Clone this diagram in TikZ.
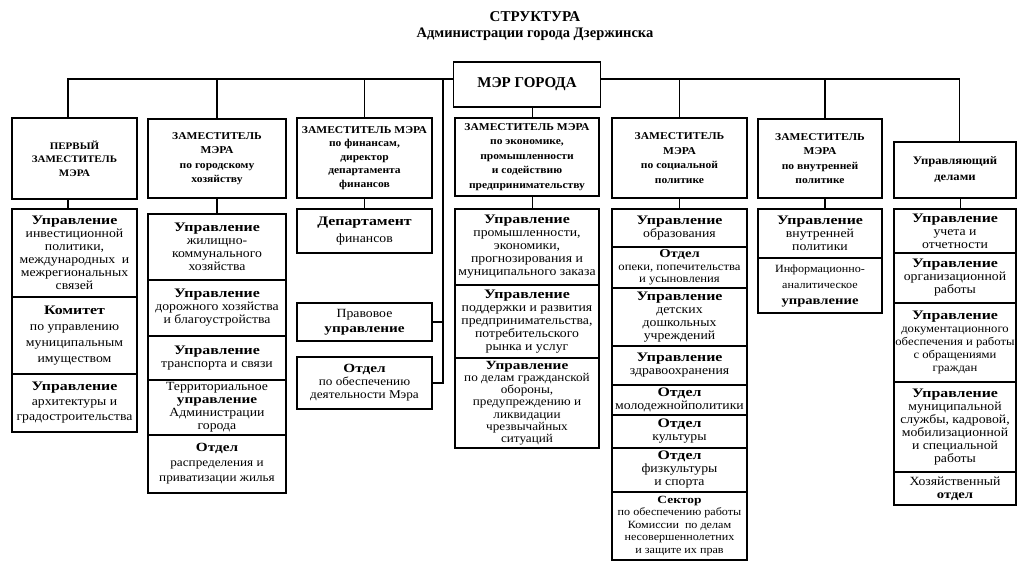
\documentclass[tikz,border=0pt]{standalone}
\usepackage{fontspec}
\setmainfont[FakeStretch=1.1]{Liberation Serif}
\newfontfamily\titlefont{Liberation Serif}
\newfontfamily\headfont[FakeStretch=1.22]{Liberation Serif}
\usetikzlibrary{calc}
\tikzset{
  chief/.style={draw,line width=1.5pt,align=center,inner sep=1pt,font=\bfseries\fontsize{10.5}{14.5}\selectfont},
  dept/.style={draw,line width=1.2pt,align=center,inner sep=1pt,font=\fontsize{12.5}{13}\selectfont},
  small/.style={font=\fontsize{11.5}{12.5}\selectfont},
  link/.style={line width=1.1pt}
}
\newcommand{\hdg}[2][13]{{\headfont\bfseries\fontsize{#1}{13}\selectfont #2}}

\begin{document}
\begin{tikzpicture}[x=1pt,y=-1pt]
  \useasboundingbox (0,0) rectangle (1024,564);
  \node[font=\titlefont\bfseries\fontsize{15}{17}\selectfont] (title) at (535,16.5) {СТРУКТУРА};
  \node[font=\titlefont\bfseries\fontsize{14.5}{16}\selectfont] (subtitle) at (535,34) {Администрации города Дзержинска};
  \node[chief,line width=1.8pt,font=\titlefont\bfseries\fontsize{15}{17}\selectfont,minimum width=147,minimum height=45] (mayor) at (527,84.5) {МЭР ГОРОДА};
  \coordinate (bus) at (0,79);
  \coordinate (riser) at (443,79);
  % first deputy
  \begin{scope}[every node/.append style={minimum width=125}]
    \node[chief,font=\bfseries\fontsize{10}{13.5}\selectfont,minimum height=81] (t1) at (74.5,158.5) {ПЕРВЫЙ\\ЗАМЕСТИТЕЛЬ\\МЭРА};
    \node[dept,minimum height=88] (s11) at (74.5,253) {\hdg{Управление}\\инвестиционной\\политики,\\международных~ и\\межрегиональных\\связей};
    \node[dept,minimum height=77,font=\fontsize{12.5}{16}\selectfont] (s12) at (74.5,335.5) {\hdg{Комитет}\\по управлению\\муниципальным\\имуществом};
    \node[dept,minimum height=58,font=\fontsize{12.5}{15}\selectfont] (s13) at (74.5,403) {\hdg{Управление}\\архитектуры и\\градостроительства};
  \end{scope}
  % city economy
  \begin{scope}[every node/.append style={minimum width=138}]
    \node[chief,minimum height=79] (t2) at (217,158.5) {ЗАМЕСТИТЕЛЬ\\МЭРА\\по городскому\\хозяйству};
    \node[dept,minimum height=66] (s21) at (217,247) {\hdg{Управление}\\жилищно-\\коммунального\\хозяйства};
    \node[dept,minimum height=56] (s22) at (217,308) {\hdg{Управление}\\дорожного хозяйства\\и благоустройства};
    \node[dept,minimum height=44] (s23) at (217,358) {\hdg{Управление}\\транспорта и связи};
    \node[dept,minimum height=55] (s24) at (217,407.5) {Территориальное\\\hdg[12.5]{управление}\\Администрации\\города};
    \node[dept,minimum height=58,font=\fontsize{12}{15}\selectfont] (s25) at (217,464) {\hdg[12.5]{Отдел}\\распределения и\\приватизации жилья};
  \end{scope}
  % finance
  \begin{scope}[every node/.append style={minimum width=135}]
    \node[chief,font=\bfseries\fontsize{10.5}{13.5}\selectfont,minimum height=80] (t3) at (364.5,158) {ЗАМЕСТИТЕЛЬ МЭРА\\по финансам,\\директор\\департамента\\финансов};
    \node[dept,minimum height=44,font=\fontsize{12.5}{17}\selectfont] (s31) at (364.5,231) {\hdg{Департамент}\\финансов};
    \node[dept,minimum height=38,font=\fontsize{12.5}{15}\selectfont] (legal) at (364.5,322) {Правовое\\\hdg[12.5]{управление}};
    \node[dept,minimum height=52,font=\fontsize{12}{13}\selectfont] (office) at (364.5,383) {\hdg[12.5]{Отдел}\\по обеспечению\\деятельности Мэра};
  \end{scope}
  % economy
  \begin{scope}[every node/.append style={minimum width=144}]
    \node[chief,minimum height=78] (t4) at (527,157) {ЗАМЕСТИТЕЛЬ МЭРА\\по экономике,\\промышленности\\и содействию\\предпринимательству};
    \node[dept,minimum height=76] (s41) at (527,247) {\hdg{Управление}\\промышленности,\\экономики,\\прогнозирования и\\муниципального заказа};
    \node[dept,minimum height=73] (s42) at (527,321.5) {\hdg{Управление}\\поддержки и развития\\предпринимательства,\\потребительского\\рынка и услуг};
    \node[dept,minimum height=90,font=\fontsize{12}{12.2}\selectfont] (s43) at (527,403) {\hdg[12.5]{Управление}\\по делам гражданской\\обороны,\\предупреждению и\\ликвидации\\чрезвычайных\\ситуаций};
  \end{scope}
  % social
  \begin{scope}[every node/.append style={minimum width=135}]
    \node[chief,minimum height=80] (t5) at (679.5,158) {ЗАМЕСТИТЕЛЬ\\МЭРА\\по социальной\\политике};
    \node[dept,minimum height=38] (s51) at (679.5,228) {\hdg{Управление}\\образования};
    \node[dept,small,minimum height=41] (s52) at (679.5,267.5) {\hdg[12]{Отдел}\\опеки, попечительства\\и усыновления};
    \node[dept,minimum height=58] (s53) at (679.5,317) {\hdg{Управление}\\детских\\дошкольных\\учреждений};
    \node[dept,minimum height=39] (s54) at (679.5,365.5) {\hdg{Управление}\\здравоохранения};
    \node[dept,minimum height=30] (s55) at (679.5,400) {\hdg{Отдел}\\молодежнойполитики};
    \node[dept,minimum height=33] (s56) at (679.5,431.5) {\hdg{Отдел}\\культуры};
    \node[dept,minimum height=44] (s57) at (679.5,470) {\hdg{Отдел}\\физкультуры\\и спорта};
    \node[dept,minimum height=68,font=\fontsize{11}{12.5}\selectfont] (s58) at (679.5,526) {\hdg[11]{Сектор}\\по обеспечению работы\\Комиссии~ по делам\\несовершеннолетних\\и защите их прав};
  \end{scope}
  % internal policy
  \begin{scope}[every node/.append style={minimum width=124}]
    \node[chief,minimum height=79] (t6) at (820,158.5) {ЗАМЕСТИТЕЛЬ\\МЭРА\\по внутренней\\политике};
    \node[dept,minimum height=49] (s61) at (820,233.5) {\hdg{Управление}\\внутренней\\политики};
    \node[dept,minimum height=55,font=\fontsize{11}{16}\selectfont] (s62) at (820,285.5) {Информационно-\\аналитическое\\\hdg[12]{управление}};
  \end{scope}
  % administration
  \begin{scope}[every node/.append style={minimum width=122}]
    \node[chief,font=\bfseries\fontsize{11.5}{16}\selectfont,minimum height=56] (t7) at (955,170) {Управляющий\\делами};
    \node[dept,minimum height=44] (s71) at (955,231) {\hdg{Управление}\\учета и\\отчетности};
    \node[dept,minimum height=50] (s72) at (955,278) {\hdg{Управление}\\организационной\\работы};
    \node[dept,minimum height=79,font=\fontsize{11.5}{13}\selectfont] (s73) at (955,342.5) {\hdg{Управление}\\документационного\\обеспечения и работы\\с обращениями\\граждан};
    \node[dept,minimum height=90] (s74) at (955,427) {\hdg{Управление}\\муниципальной\\службы, кадровой,\\мобилизационной\\и специальной\\работы};
    \node[dept,minimum height=33] (s75) at (955,488.5) {Хозяйственный\\\hdg[12]{отдел}};
  \end{scope}
  % links
  \draw[link] ([yshift=5.5pt]mayor.west) -| ([xshift=-6.5pt]t1.north);
  \draw[link] ([yshift=5.5pt]mayor.east) -| ([xshift=4.5pt]t7.north);
  \draw[link] (t2.north) -- (t2.north |- bus);
  \draw[link] (t3.north) -- (t3.north |- bus);
  \draw[link] (t5.north) -- (t5.north |- bus);
  \draw[link] ([xshift=5pt]t6.north) -- ([xshift=5pt]t6.north |- bus);
  \draw[link] ([xshift=5.5pt]t4.north) -- ([xshift=5.5pt]t4.north |- mayor.south);
  \draw[link] (riser) |- (legal.east);
  \draw[link] (riser) |- (office.east);
  \draw[link] ([xshift=-6.5pt]t1.south) -- ([xshift=-6.5pt]s11.north);
  \draw[link] (t2.south) -- (s21.north);
  \draw[link] (t3.south) -- (s31.north);
  \draw[link] ([xshift=5.5pt]t4.south) -- ([xshift=5.5pt]s41.north);
  \draw[link] (t5.south) -- (s51.north);
  \draw[link] ([xshift=5pt]t6.south) -- ([xshift=5pt]s61.north);
  \draw[link] ([xshift=5.5pt]t7.south) -- ([xshift=5.5pt]s71.north);
\end{tikzpicture}
\end{document}
